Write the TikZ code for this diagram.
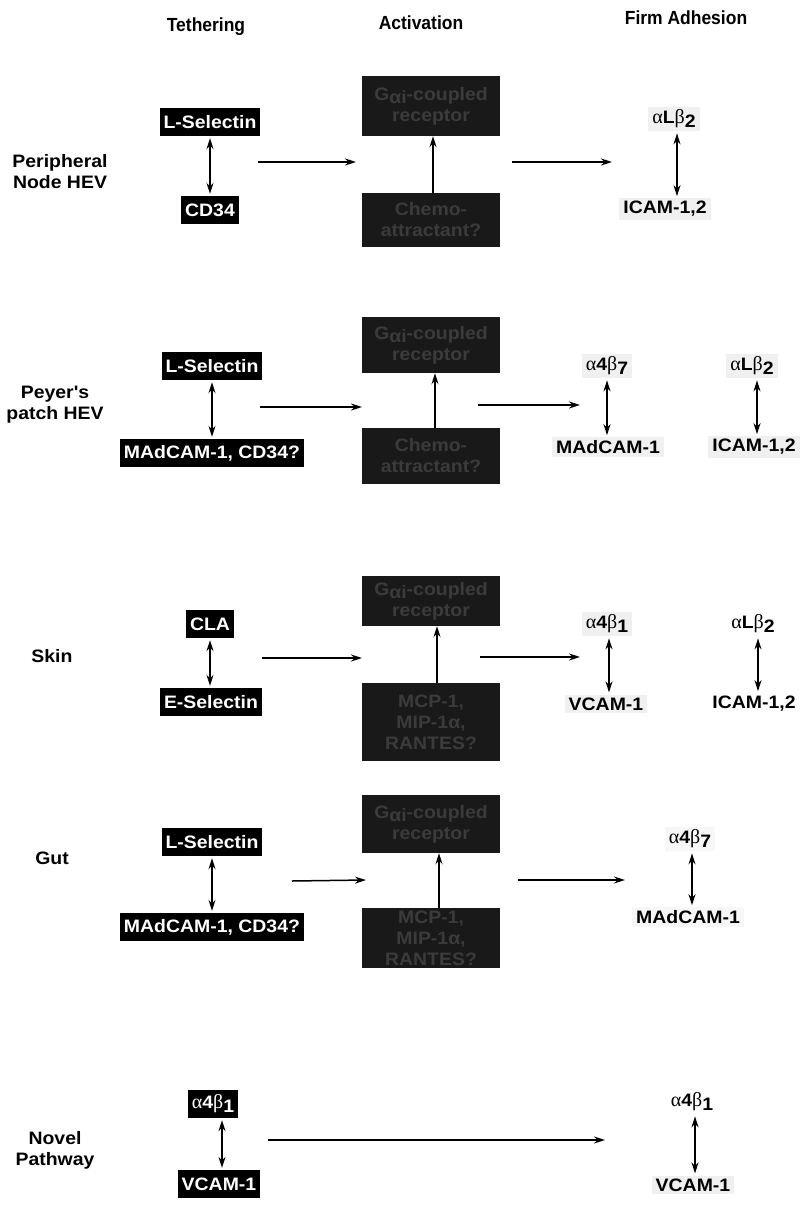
\documentclass[tikz,border=0pt]{standalone}
\usepackage{fontspec}
\setmainfont{Liberation Sans}
\newfontfamily\labfont[FakeStretch=1.08]{Liberation Sans}
\newfontfamily\hdrfont[FakeStretch=0.92]{Liberation Sans}
\newfontfamily\grkfont{Liberation Serif}
\usetikzlibrary{arrows.meta}
\newcommand{\galpha}{{\grkfont\mdseries\fontsize{20}{21}\selectfont α}}
\newcommand{\gbeta}{{\grkfont\mdseries\fontsize{20}{21}\selectfont β}}
\newcommand{\lowsub}[1]{\raisebox{-0.35ex}{#1}}
\tikzset{
  lab/.style={font=\labfont\bfseries\fontsize{18}{21}\selectfont},
  hdr/.style={font=\hdrfont\bfseries\fontsize{19}{22}\selectfont},
  row/.style={lab, align=center},
  blk/.style={lab, fill=black, text=white, inner xsep=4pt, inner ysep=2pt, minimum height=28pt},
  dark/.style={lab, fill=black!90, text=black!77, align=center, minimum width=138pt, inner sep=2pt},
  adh/.style={lab, fill=black!6, inner xsep=4pt, inner ysep=3pt},
  arr/.style={line width=1.5pt, -{Stealth[length=11pt,width=7pt]}},
  dbl/.style={line width=1.5pt, {Stealth[length=11pt,width=7pt]}-{Stealth[length=11pt,width=7pt]}, shorten <=2pt, shorten >=2pt}
}
\begin{document}
\begin{tikzpicture}[x=1pt,y=-1pt]
\useasboundingbox (0,0) rectangle (802,1205);
\fill[white] (0,0) rectangle (802,1205);

% headers
\node[hdr] (hT) at (206,27) {Tethering};
\node[hdr] (hA) at (421,23) {Activation};
\node[hdr] (hF) at (686,18) {Firm Adhesion};

% ---------------- Row 1: Peripheral Node HEV
\node[row] (r1) at (60,172) {Peripheral\\Node HEV};
\node[blk] (ls1) at (210,122) {L-Selectin};
\node[blk] (cd1) at (210,210) {CD34};
\draw[dbl] (ls1.south) -- (cd1.north);
\node[dark, minimum height=60pt] (g1) at (431,106) {G\lowsub{αi}-coupled\\receptor};
\node[dark, minimum height=54pt] (c1) at (431,220) {Chemo-\\attractant?};
\draw[arr] ([xshift=2pt]c1.north) -- ([xshift=2pt]g1.south);
\coordinate (p1a) at (258,162); \coordinate (p1b) at (356,162);
\draw[arr] (p1a) -- (p1b);
\coordinate (p1c) at (512,162); \coordinate (p1d) at (612,162);
\draw[arr] (p1c) -- (p1d);
\node[adh] (a1) at (674,119) {\galpha L\gbeta\lowsub{2}};
\node[adh] (i1) at (665,209) {ICAM-1,2};
\draw[dbl] ([xshift=3pt]a1.south) -- ([xshift=3pt]a1.south |- i1.north);

% ---------------- Row 2: Peyer's patch HEV
\node[row] (r2) at (55,405) {Peyer's\\patch HEV};
\node[blk] (ls2) at (212,366) {L-Selectin};
\node[blk] (mc2) at (212,453) {MAdCAM-1, CD34?};
\draw[dbl] (ls2.south) -- (mc2.north);
\node[dark, minimum height=56pt] (g2) at (431,345) {G\lowsub{αi}-coupled\\receptor};
\node[dark, minimum height=56pt] (c2) at (431,456) {Chemo-\\attractant?};
\draw[arr] ([xshift=4pt]c2.north) -- ([xshift=4pt]g2.south);
\coordinate (p2a) at (260,407); \coordinate (p2b) at (362,407);
\draw[arr] (p2a) -- (p2b);
\coordinate (p2c) at (478,405); \coordinate (p2d) at (580,405);
\draw[arr] (p2c) -- (p2d);
\node[adh] (a2) at (607,366) {\galpha 4\gbeta\lowsub{7}};
\node[adh] (m2) at (608,447) {MAdCAM-1};
\draw[dbl] (a2.south) -- (a2.south |- m2.north);
\node[adh] (b2) at (752,366) {\galpha L\gbeta\lowsub{2}};
\node[adh] (i2) at (754,447) {ICAM-1,2};
\draw[dbl] ([xshift=5pt]b2.south) -- ([xshift=5pt]b2.south |- i2.north);

% ---------------- Row 3: Skin
\node[row] (r3) at (52,656) {Skin};
\node[blk] (cla) at (210,624) {CLA};
\node[blk] (es) at (211,702) {E-Selectin};
\draw[dbl] (cla.south) -- (cla.south |- es.north);
\node[dark, minimum height=50pt] (g3) at (431,601) {G\lowsub{αi}-coupled\\receptor};
\node[dark, minimum height=78pt] (c3) at (431,722) {MCP-1,\\MIP-1α,\\RANTES?};
\draw[arr] ([xshift=6pt]c3.north) -- ([xshift=6pt]g3.south);
\coordinate (p3a) at (262,658); \coordinate (p3b) at (362,658);
\draw[arr] (p3a) -- (p3b);
\coordinate (p3c) at (480,657); \coordinate (p3d) at (580,657);
\draw[arr] (p3c) -- (p3d);
\node[adh] (a3) at (607,624) {\galpha 4\gbeta\lowsub{1}};
\node[adh] (v3) at (606,704) {VCAM-1};
\draw[dbl] ([xshift=2pt]a3.south) -- ([xshift=2pt]a3.south |- v3.north);
\node[adh, fill=none] (b3) at (753,624) {\galpha L\gbeta\lowsub{2}};
\node[adh, fill=none] (i3) at (754,704) {ICAM-1,2};
\draw[dbl] ([xshift=5pt]b3.south) -- ([xshift=5pt]b3.south |- i3.north);

% ---------------- Row 4: Gut
\node[row] (r4) at (52,858) {Gut};
\node[blk] (ls4) at (212,842) {L-Selectin};
\node[blk] (mc4) at (212,927) {MAdCAM-1, CD34?};
\draw[dbl] (ls4.south) -- (mc4.north);
\node[dark, minimum height=58pt] (g4) at (431,824) {G\lowsub{αi}-coupled\\receptor};
\node[dark, minimum height=60pt] (c4) at (431,938) {MCP-1,\\MIP-1α,\\RANTES?};
\draw[arr] ([xshift=8pt]c4.north) -- ([xshift=8pt]g4.south);
\coordinate (p4a) at (292,881); \coordinate (p4b) at (366,880);
\draw[arr] (p4a) -- (p4b);
\coordinate (p4c) at (518,880); \coordinate (p4d) at (625,880);
\draw[arr] (p4c) -- (p4d);
\node[adh, fill=black!3] (a4) at (690,839) {\galpha 4\gbeta\lowsub{7}};
\node[adh, fill=black!3] (m4) at (688,917) {MAdCAM-1};
\draw[dbl] ([xshift=2pt]a4.south) -- ([xshift=2pt]a4.south |- m4.north);

% ---------------- Row 5: Novel Pathway
\node[row] (r5) at (55,1150) {Novel\\Pathway};
\node[blk] (a5) at (213,1104) {\galpha 4\gbeta\lowsub{1}};
\node[blk] (v5) at (219,1184) {VCAM-1};
\draw[dbl] ([xshift=9pt]a5.south) -- ([xshift=9pt]a5.south |- v5.north);
\coordinate (p5a) at (268,1140); \coordinate (p5b) at (605,1140);
\draw[arr] (p5a) -- (p5b);
\node[adh, fill=none] (a6) at (692,1102) {\galpha 4\gbeta\lowsub{1}};
\node[adh] (v6) at (693,1185) {VCAM-1};
\draw[dbl] ([xshift=3pt]a6.south) -- ([xshift=3pt]a6.south |- v6.north);
\end{tikzpicture}
\end{document}
